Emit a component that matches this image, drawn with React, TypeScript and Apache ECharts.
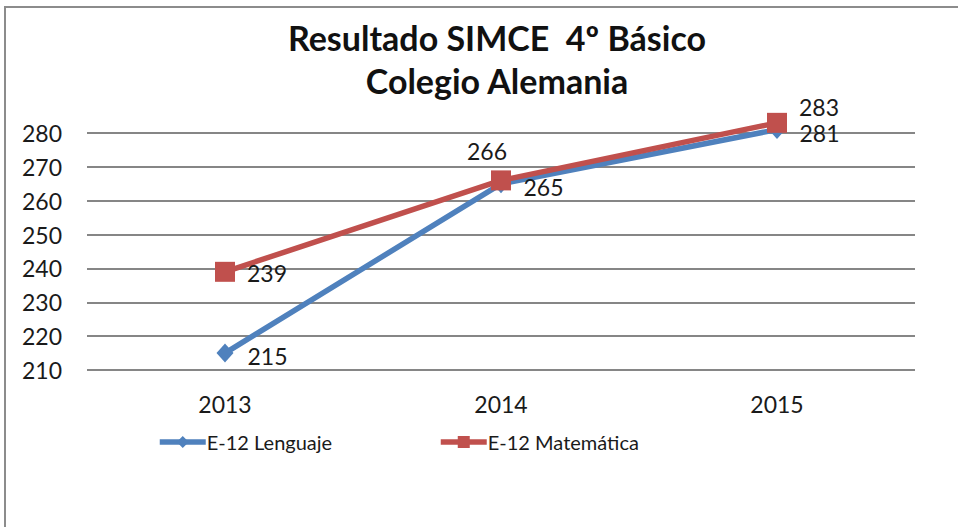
import React, { useEffect, useRef } from "react";
import * as echarts from "echarts";

const categories = ["2013", "2014", "2015"];
const lenguaje = [215, 265, 281];
const matematica = [239, 266, 283];
const seriesNames = ["E-12 Lenguaje", "E-12 Matemática"];
const titleLines = ["Resultado SIMCE  4º Básico", "Colegio Alemania"];

const FONT = "Lato, 'Noto Sans', sans-serif";
const BLUE = "#4F81BD";
const RED = "#C0504D";

export default function App() {
  const ref = useRef<HTMLDivElement>(null);
  useEffect(() => {
    if (!ref.current) return;
    const chart = echarts.init(ref.current, undefined, { renderer: "svg" });
    const labelStyle = { color: "#1a1a1a", fontSize: 23, fontFamily: FONT };
    const legendCommon = {
      top: 427,
      itemWidth: 46,
      itemHeight: 15,
      itemGap: 2,
      lineStyle: { width: 5.5 },
      textStyle: { fontSize: 20, color: "#1a1a1a", fontFamily: FONT, padding: [0, 0, 0, -4] },
    };
    chart.setOption({
      animation: false,
      backgroundColor: "#ffffff",
      textStyle: { fontFamily: FONT },
      graphic: [
        {
          type: "rect",
          shape: { x: 5, y: 7, width: 1000, height: 600 },
          style: { fill: "none", stroke: "#8c8c8c", lineWidth: 2 },
          silent: true,
        },
        {
          type: "text",
          x: 497,
          y: 37,
          style: {
            text: titleLines[0],
            fontSize: 34,
            fontWeight: "bold",
            fontFamily: FONT,
            fill: "#111",
            textAlign: "center",
            textVerticalAlign: "middle",
          },
        },
        {
          type: "text",
          x: 497,
          y: 80,
          style: {
            text: titleLines[1],
            fontSize: 34,
            fontWeight: "bold",
            fontFamily: FONT,
            fill: "#111",
            textAlign: "center",
            textVerticalAlign: "middle",
          },
        },
      ],
      legend: [
        { ...legendCommon, data: [seriesNames[0]], left: 152 },
        { ...legendCommon, data: [seriesNames[1]], left: 433 },
      ],
      grid: { left: 87, right: 43, top: 133, bottom: 157, containLabel: false },
      xAxis: {
        type: "category",
        data: categories,
        boundaryGap: true,
        axisLine: { show: false },
        axisTick: { show: false },
        axisLabel: { fontSize: 23, color: "#1a1a1a", margin: 22, fontFamily: FONT },
      },
      yAxis: {
        type: "value",
        min: 210,
        max: 280,
        interval: 10,
        axisLine: { show: false },
        axisTick: { show: false },
        axisLabel: { fontSize: 23, color: "#1a1a1a", margin: 25, fontFamily: FONT },
        splitLine: { lineStyle: { color: "#868686", width: 2 } },
      },
      series: [
        {
          name: seriesNames[0],
          type: "line",
          data: lenguaje,
          clip: false,
          symbol: "diamond",
          symbolSize: [17, 19],
          lineStyle: { color: BLUE, width: 5.5 },
          itemStyle: { color: BLUE },
          z: 3,
          label: {
            show: true,
            position: "right",
            distance: 14,
            offset: [0, 3],
            ...labelStyle,
          },
        },
        {
          name: seriesNames[1],
          type: "line",
          data: [
            { value: matematica[0], label: { position: "right", distance: 12, offset: [0, 1] } },
            { value: matematica[1], label: { position: "top", distance: 8, offset: [-14, 0] } },
            { value: matematica[2], label: { position: "right", distance: 12, offset: [0, -16] } },
          ],
          clip: false,
          symbol: "rect",
          symbolSize: 20,
          lineStyle: { color: RED, width: 5.5 },
          itemStyle: { color: RED },
          z: 4,
          label: {
            show: true,
            position: "right",
            distance: 12,
            ...labelStyle,
          },
        },
      ],
    });
    return () => chart.dispose();
  }, []);
  return (
    <div
      ref={ref}
      style={{ position: "absolute", left: 0, top: 0, width: 958, height: 527 }}
    />
  );
}
